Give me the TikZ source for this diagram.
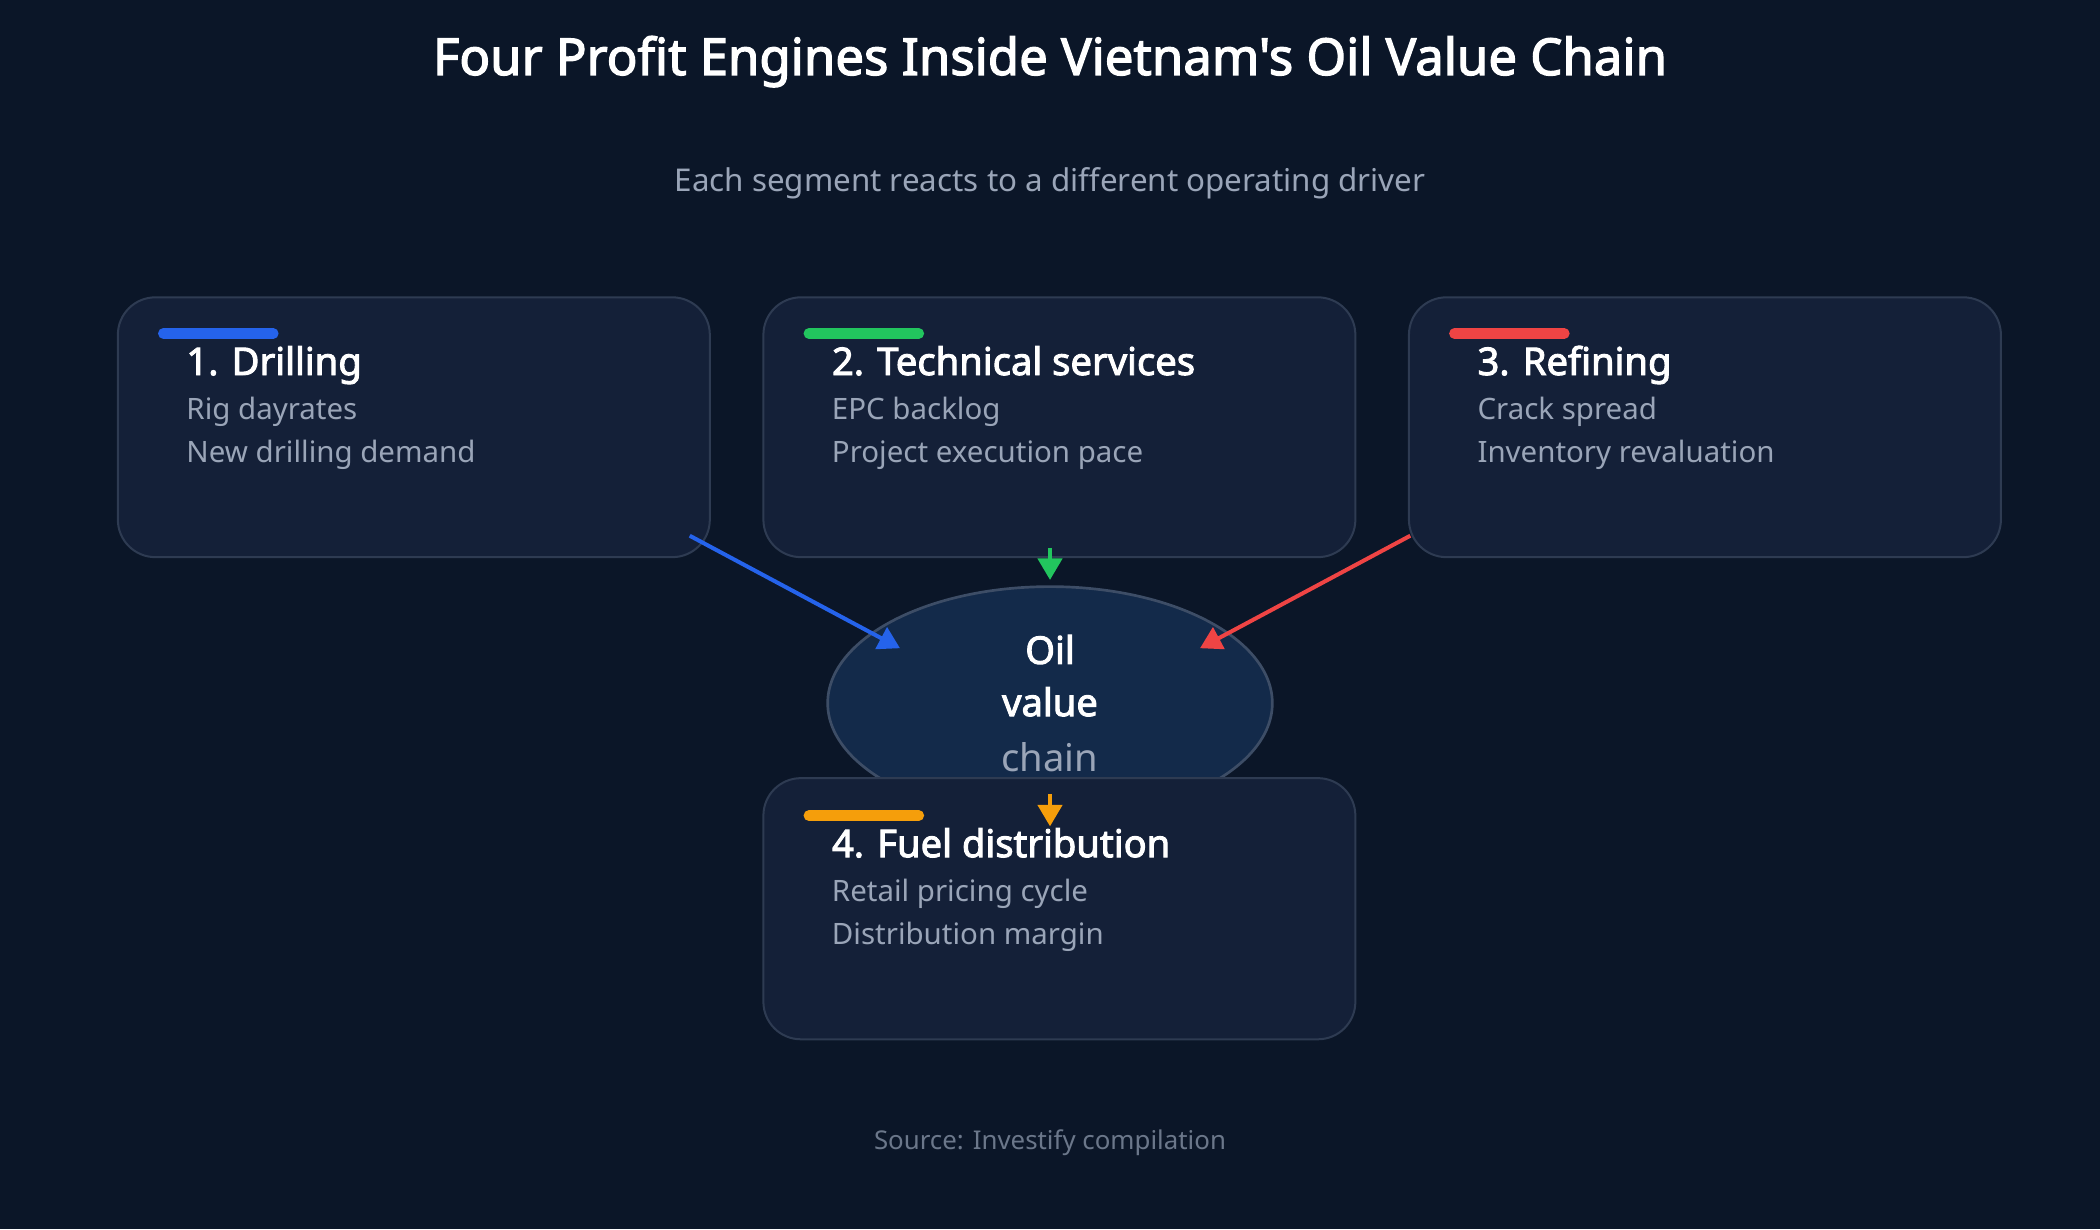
\documentclass[tikz,border=0pt]{standalone}
\usepackage{fontspec}
\setmainfont{Noto Sans}[Ligatures=TeXOff,BoldFont={Noto Sans},BoldFeatures={FakeBold=2.5}]
\usetikzlibrary{arrows.meta,shapes.geometric}
\definecolor{bg}{HTML}{0B1628}
\definecolor{boxf}{HTML}{142038}
\definecolor{boxd}{HTML}{2E3B52}
\definecolor{sub}{HTML}{9AA5B8}
\definecolor{src}{HTML}{6B778A}
\definecolor{cb}{HTML}{2563EB}
\definecolor{cg}{HTML}{22C55E}
\definecolor{cr}{HTML}{EF4444}
\definecolor{ca}{HTML}{F59E0B}
\definecolor{ellf}{HTML}{132A4A}
\definecolor{elld}{HTML}{3D4D66}
\begin{document}
\begin{tikzpicture}[x=1pt,y=-1pt,
 box/.style={draw=boxd,line width=1.5pt,fill=boxf,rounded corners=28pt},
 bar/.style={line width=8pt,line cap=round},
 ttl/.style={anchor=base west,text=white,font=\fontsize{28.5}{32}\selectfont\bfseries,inner sep=0},
 ln/.style={anchor=base west,text=sub,font=\fontsize{22}{26}\selectfont,inner sep=0},
 arr/.style={line width=3pt,-{Triangle[length=16pt,width=18pt]}}]
\fill[bg] (0,0) rectangle (1568,918);
\useasboundingbox (0,0) rectangle (1568,918);
\node[text=white,font=\fontsize{38}{42}\selectfont\bfseries] (title) at (784,46) {Four Profit Engines Inside Vietnam's Oil Value Chain};
\node[text=sub,font=\fontsize{23.4}{27}\selectfont] (subt) at (784,137) {Each segment reacts to a different operating driver};
% ellipse
\node[draw=elld,line width=2pt,fill=ellf,ellipse,minimum width=332pt,minimum height=174pt,inner sep=0] (oil) at (784,525) {};
\node[text=white,font=\fontsize{28.5}{32}\selectfont\bfseries] (oilt) at (784,485) {Oil};
\node[text=white,font=\fontsize{28.5}{32}\selectfont\bfseries] (valt) at (784,524) {value};
\node[text=sub,font=\fontsize{28.5}{32}\selectfont] (chaint) at (784,565) {chain};
% boxes
\draw[box] (88,222) rectangle (530,416);
\draw[box] (570,222) rectangle (1012,416);
\draw[box] (1052,222) rectangle (1494,416);
\draw[box] (570,581) rectangle (1012,776);
\draw[bar,cb] (122,249) -- (204,249);
\draw[bar,cg] (604,249) -- (686,249);
\draw[bar,cr] (1086,249) -- (1168,249);
\draw[bar,ca] (604,609) -- (686,609);
\node[ttl] (t1) at (139,280) {1. Drilling};
\node[ln] (a1) at (139,313) {Rig dayrates};
\node[ln] (b1) at (139,345) {New drilling demand};
\node[ttl] (t2) at (621,280) {2. Technical services};
\node[ln] (a2) at (621,313) {EPC backlog};
\node[ln] (b2) at (621,345) {Project execution pace};
\node[ttl] (t3) at (1103,280) {3. Refining};
\node[ln] (a3) at (1103,313) {Crack spread};
\node[ln] (b3) at (1103,345) {Inventory revaluation};
\node[ttl] (t4) at (621,640) {4. Fuel distribution};
\node[ln] (a4) at (621,673) {Retail pricing cycle};
\node[ln] (b4) at (621,705) {Distribution margin};
% arrows
\coordinate (s1) at (515,400); \coordinate (e1) at (672,484);
\coordinate (s2) at (784,409); \coordinate (e2) at (784,433);
\coordinate (s3) at (1053,400); \coordinate (e3) at (896,484);
\coordinate (s4) at (784,593); \coordinate (e4) at (784,617);
\draw[arr,cb] (s1) -- (e1);
\draw[arr,cg] (s2) -- (e2);
\draw[arr,cr] (s3) -- (e3);
\draw[arr,ca] (s4) -- (e4);
\node[text=src,font=\fontsize{19.3}{23}\selectfont] (source) at (784,853) {Source: Investify compilation};
\end{tikzpicture}
\end{document}
